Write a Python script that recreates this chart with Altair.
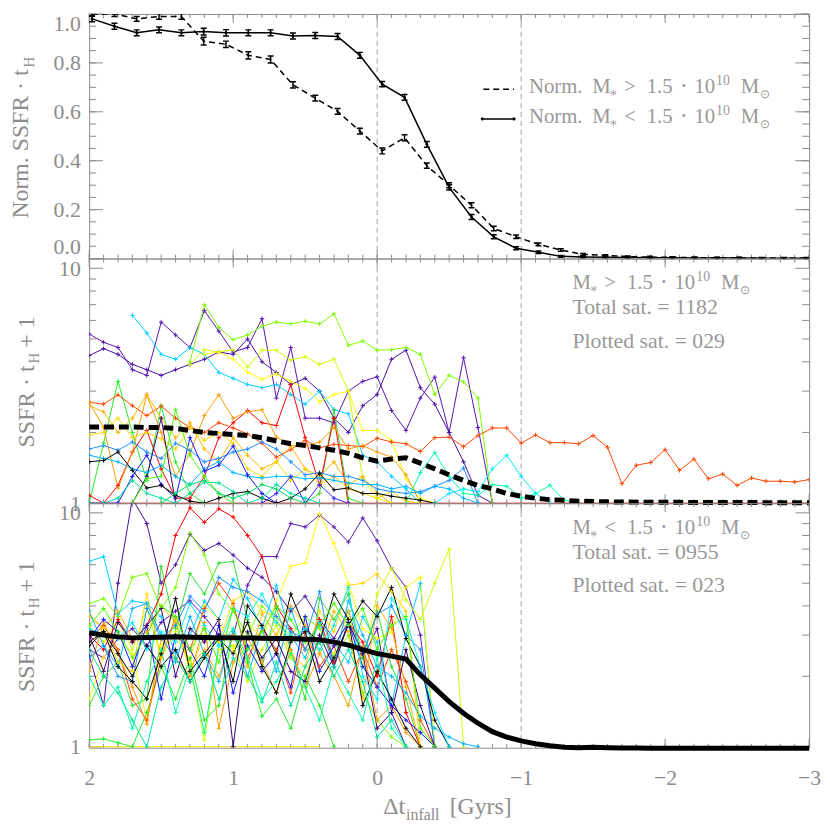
import altair as alt
import pandas as pd

W, H = 727, 247
FONT = "Liberation Serif"
GRAY = "#8c8c8c"
TXT = "#999999"
PLUS = "M-1,0H1M0,-1V1"

# ---------------- data ----------------
X_GRID = [2.0, 1.9, 1.8, 1.7, 1.6, 1.5, 1.4, 1.3, 1.2, 1.1, 1.0, 0.9, 0.8, 0.7, 0.6, 0.5, 0.4,
          0.3, 0.2, 0.1, 0.0, -0.1, -0.2, -0.3, -0.4, -0.5, -0.6, -0.7, -0.8, -0.9, -1.0, -1.1,
          -1.2, -1.3, -1.4, -1.5, -1.6, -1.7, -1.8, -1.9, -2.0, -2.1, -2.2, -2.3, -2.4, -2.5,
          -2.6, -2.7, -2.8, -2.9, -3.0]
X_MAJOR = [2, 1, 0, -1, -2, -3]
X_DASHED = [0, -1]

X_TOP = [1.98, 1.825, 1.67, 1.515, 1.36, 1.205, 1.05, 0.895, 0.74, 0.585, 0.43, 0.275, 0.12,
         -0.035, -0.19, -0.345, -0.5, -0.655, -0.81, -0.965, -1.12, -1.275, -1.43, -1.585,
         -1.74, -1.895, -2.05, -2.205, -2.36, -2.515, -2.67, -2.825, -2.98]
TOP_SOLID = [0.98, 0.95, 0.923, 0.935, 0.923, 0.928, 0.923, 0.923, 0.923, 0.91, 0.912, 0.908,
             0.831, 0.713, 0.659, 0.467, 0.291, 0.17, 0.089, 0.042, 0.026, 0.009, 0.006, 0.005,
             0.004, 0.003, 0.003, 0.002, 0.002, 0.002, 0.001, 0.001, 0.001]
TOP_SOLID_ERR = [0.012, 0.012, 0.012, 0.012, 0.012, 0.014, 0.013, 0.012, 0.012, 0.012, 0.012,
                 0.012, 0.012, 0.011, 0.012, 0.012, 0.011, 0.010, 0.008, 0.006, 0.005, 0.004,
                 0.003, 0.003, 0.003, 0.002, 0.002, 0.002, 0.002, 0.002, 0.002, 0.002, 0.002]
TOP_DASHED = [1.0, 1.0, 0.98, 0.99, 0.99, 0.889, 0.876, 0.831, 0.814, 0.71, 0.656, 0.602, 0.521,
              0.44, 0.494, 0.38, 0.30, 0.218, 0.123, 0.089, 0.058, 0.035, 0.017, 0.013, 0.008,
              0.006, 0.005, 0.004, 0.003, 0.003, 0.002, 0.002, 0.002]
TOP_DASHED_ERR = [0.008, 0.01, 0.01, 0.012, 0.012, 0.016, 0.013, 0.015, 0.014, 0.013, 0.012,
                  0.012, 0.012, 0.012, 0.012, 0.011, 0.01, 0.01, 0.009, 0.007, 0.006, 0.005,
                  0.004, 0.003, 0.003, 0.003, 0.002, 0.002, 0.002, 0.002, 0.002, 0.002, 0.002]
TOP_Y_MAJOR = [0.0, 0.2, 0.4, 0.6, 0.8, 1.0]
TOP_Y_MINOR = [0.0, 0.05, 0.1, 0.15, 0.2, 0.25, 0.3, 0.35, 0.4, 0.45, 0.5, 0.55, 0.6, 0.65,
               0.7, 0.75, 0.8, 0.85, 0.9, 0.95, 1.0]
LOG_MAJOR = [1, 10]
LOG_MINOR = [2, 3, 4, 5, 6, 7, 8, 9]

MID_MEAN = [2.11, 2.11, 2.11, 2.11, 2.10, 2.10, 2.08, 2.04, 2.00, 1.98, 1.96, 1.94, 1.90, 1.84,
            1.79, 1.76, 1.72, 1.68, 1.63, 1.56, 1.51, 1.54, 1.56, 1.48, 1.40, 1.32, 1.25, 1.19,
            1.15, 1.10, 1.07, 1.05, 1.035, 1.028, 1.02, 1.016, 1.013, 1.011, 1.01, 1.009, 1.008,
            1.008, 1.007, 1.007, 1.006, 1.006, 1.006, 1.005, 1.005, 1.005, 1.005]
BOT_MEAN = [3.07, 3.00, 2.95, 2.92, 2.93, 2.94, 2.95, 2.94, 2.93, 2.92, 2.92, 2.92, 2.91, 2.90,
            2.90, 2.88, 2.87, 2.80, 2.72, 2.60, 2.50, 2.44, 2.37, 2.03, 1.78, 1.56, 1.39, 1.26,
            1.16, 1.10, 1.06, 1.03, 1.01, 0.995, 0.99, 0.995, 0.99, 0.988, 0.987, 0.986, 0.986,
            0.986, 0.985, 0.985, 0.985, 0.985, 0.985, 0.985, 0.985, 0.985, 0.985]

# baselines at SSFR*tH+1 = 1 (x from, x to, value)
MID_BASE = ([2.0], [-3.0], [1.0])
BOT_BASE = ([2.0], [0.4], [1.0])

# (colour, index of first sample on X_GRID, values of SSFR*tH+1)
MID_LINES = [
    ("#5b14b4", 0, [5.25, 4.84, 4.6, 3.7, 3.5, 5.9, 5.2, 4.6, 6.6, 5.4, 4.4, 4.6, 6.1, 2.8, 4.6,
                    2.3, 2.3, 2.2, 3.0, 3.3, 3.45, 2.48, 2.04, 2.8, 3.44, 2.0, 4.16, 2.1, 1.0]),
    ("#4a10a0", 0, [4.25, 4.55, 4.3, 3.9, 3.7, 3.5, 3.7, 3.9, 4.1, 4.4, 4.3, 5.0, 4.0, 3.6, 3.2,
                    3.4, 3.0, 2.3, 2.0, 2.6, 2.9, 4.1, 4.48, 3.1, 2.64, 2.0, 1.5, 1.08, 1.0]),
    ("#7cfc00", 7, [4.0, 7.0, 5.6, 4.97, 5.2, 5.66, 5.9, 5.8, 5.95, 5.8, 6.4, 4.7, 4.9, 4.48, 4.5,
                    4.6, 4.3, 2.9, 3.5, 3.28, 2.8, 1.0]),
    ("#00ccff", 3, [6.3, 5.3, 4.3, 4.1, 4.6, 4.3, 3.6, 3.4, 3.2, 3.1, 3.2, 2.9, 2.64, 3.0, 2.5, 2.4,
                    1.6, 1.5, 1.3, 1.15, 1.0]),
    ("#ccff00", 7, [3.9, 4.5, 4.4, 4.5, 3.8, 4.48, 4.48, 4.06, 4.2, 3.9, 4.1, 3.0, 1.27, 1.05, 1.0]),
    ("#ffff00", 8, [4.3, 4.4, 4.1, 3.6, 3.37, 3.55, 3.3, 3.08, 2.7, 2.9, 3.0, 2.04, 2.04, 1.85,
                    1.27, 1.05, 1.0]),
    ("#22ee22", 0, [1.0, 1.8, 3.3, 2.0, 1.25, 2.6, 1.5, 1.1, 1.0]),
    ("#33dd33", 15, [1.0, 1.1, 2.5, 1.05, 1.0]),
    ("#ff0000", 0, [1.08, 1.0, 1.19, 1.65, 2.04, 1.4, 1.05, 1.05, 1.3, 1.9, 2.2, 2.48, 2.2, 2.14,
                    3.2, 1.9, 1.19, 2.3, 1.0]),
    ("#ff4500", 0, [2.69, 2.64, 2.89, 2.6, 2.36, 2.59, 2.3, 2.1, 2.0, 2.2, 2.09, 1.97, 1.80, 1.57,
                    1.69, 1.85, 1.72, 1.78, 1.76, 1.74, 1.89, 1.82, 1.79, 1.66, 1.90, 1.91, 1.74,
                    1.94, 2.09, 2.09, 1.80, 1.95, 1.81, 1.81, 1.79, 1.94, 1.73, 1.21, 1.45, 1.49,
                    1.69, 1.38, 1.54, 1.27, 1.33, 1.19, 1.28, 1.24, 1.24, 1.23, 1.26]),
    ("#ff9900", 0, [2.69, 2.1, 1.16, 1.65, 2.89, 2.0, 1.3, 1.63, 2.36, 2.89, 2.3, 2.45, 2.5, 1.91,
                    1.76, 1.75, 1.82, 2.1, 1.7, 1.76, 1.65, 1.57, 1.32, 1.0]),
    ("#ffb300", 0, [2.6, 2.45, 2.0, 2.3, 2.9, 2.3, 1.9, 2.2, 1.7, 1.5, 1.9, 1.6, 1.4, 1.5, 1.75,
                    1.4, 1.3, 1.5, 1.2, 1.3, 1.1, 1.0]),
    ("#ffd700", 0, [1.95, 2.0, 2.3, 1.9, 2.0, 1.88, 1.7, 2.1, 1.85, 2.0, 1.8, 1.4, 1.3, 1.5, 1.25,
                    1.4, 1.2, 1.3, 1.15, 1.1, 1.05, 1.12, 1.02, 1.0]),
    ("#1e90ff", 0, [1.7, 1.76, 1.68, 1.82, 1.65, 1.55, 1.8, 1.68, 1.5, 1.55, 1.65, 1.7, 1.82, 1.7,
                    1.5, 1.32, 1.35, 1.3, 1.3, 1.25, 1.15, 1.12, 1.1, 1.12, 1.18, 1.25, 1.41, 1.0]),
    ("#00b4ff", 0, [1.6, 1.55, 1.5, 1.4, 1.35, 1.45, 1.3, 1.2, 1.4, 1.5, 1.35, 1.3, 1.28, 1.3, 1.3,
                    1.27, 1.28, 1.25, 1.22, 1.2, 1.2, 1.15, 1.18, 1.1, 1.18, 1.15, 1.05, 1.0]),
    ("#1414ff", 0, [1.0, 1.0, 1.0, 1.3, 1.6, 1.2, 1.05, 1.9, 1.37, 1.45, 1.75, 1.32, 1.1, 1.0]),
    ("#000000", 0, [1.5, 1.52, 1.65, 1.38, 1.16, 1.19, 1.08, 1.02, 1.0, 1.05, 1.1, 1.12, 1.05, 1.0]),
    ("#000000", 13, [1.0, 1.05, 1.15, 1.34, 1.14, 1.16, 1.1, 1.1, 1.07, 1.05, 1.03, 1.0]),
    ("#3a0070", 3, [1.0, 1.3, 2.3, 1.0]),
    ("#00e0a0", 0, [1.0, 1.0, 1.05, 1.25, 1.1, 1.05, 1.0, 1.1, 1.23, 1.22, 1.12, 1.0, 1.05, 1.2,
                    1.1, 1.05, 1.0]),
    ("#00ffa0", 22, [1.0, 1.35, 1.64, 1.3, 1.1, 1.08, 1.2, 1.18, 1.05, 1.1, 1.19, 1.03, 1.0]),
    ("#00eeff", 24, [1.0, 1.1, 1.15, 1.12, 1.4, 1.6, 1.3, 1.1, 1.0]),
    ("#44ff00", 3, [1.0, 1.27, 1.3, 2.5, 1.6, 1.3, 1.1, 1.0]),
    ("#2828ff", 12, [1.0, 1.1, 1.3, 1.0, 1.2, 1.05, 1.0]),
    ("#00dd66", 5, [1.0, 1.1, 1.2, 1.25, 1.1, 1.05, 1.1, 1.2, 1.15, 1.05, 1.0]),
]

BOT_LINES = [
    ("#1a1aff", 0, [2.6, 2.4, 2.9, 3.2, 2.7, 3.4, 3.8, 4.2, 3.6, 3.0, 3.0, 4.9, 6.5, 6.5, 9.0, 8.7,
                    9.8, 8.7, 7.5, 9.5, 7.6, 5.8, 4.8, 3.0, 1.0]),
    ("#550099", 0, [2.45, 1.5, 5.0, 11.5, 9.0, 5.0, 6.0, 8.1, 6.9, 7.4, 6.6, 5.8, 5.3, 4.6, 3.8,
                    4.4, 3.5, 2.9, 3.8, 2.4, 3.2, 1.4, 1.0]),
    ("#ff1010", 0, [4.1, 4.3, 3.6, 5.3, 5.5, 3.9, 4.8, 8.2, 6.6, 4.5, 3.8, 3.0, 4.0, 3.4, 3.0, 3.6,
                    3.2, 2.4, 3.0, 1.7, 1.3, 1.1, 1.0]),
    ("#1f8fff", 0, [6.2, 6.5, 3.7, 4.2, 4.1, 3.6, 2.5, 3.0, 4.2, 3.5, 5.2, 4.3, 3.2, 4.9, 3.0, 2.4,
                    3.4, 2.8, 2.3, 3.6, 2.8, 1.5, 3.0, 5.0, 1.0]),
    ("#ff9a00", 0, [3.3, 2.8, 3.5, 2.6, 3.9, 2.4, 3.1, 2.2, 1.07, 2.6, 2.7, 1.9, 2.6, 3.3, 2.4, 2.0,
                    2.9, 2.5, 3.8, 2.2, 4.5, 5.8, 4.25, 3.5, 5.0, 7.0, 1.0]),
    ("#e6f000", 0, [1.6, 2.4, 3.0, 2.5, 1.3, 2.7, 3.3, 2.3, 4.0, 3.5, 2.6, 3.4, 2.9, 4.2, 5.9, 6.1,
                    9.9, 7.4, 5.0, 3.2, 2.9, 3.1, 4.8, 5.3, 1.0]),
    ("#f5e600", 0, [1.07, 1.08, 1.04, 1.0, 1.4, 2.2, 1.6, 2.4, 1.3, 1.5, 3.1, 2.3, 1.35, 1.6, 1.2,
                    2.0, 1.5, 1.0]),
    ("#b0ff00", 0, [1.5, 2.0, 2.3, 1.5, 1.6, 5.9, 3.2, 5.5, 4.5, 6.1, 6.2, 3.5, 2.2, 3.9, 2.6, 1.6,
                    4.3, 3.5, 4.5, 2.4, 3.8, 2.2, 1.6, 1.0]),
    ("#00ee00", 0, [3.0, 2.6, 3.5, 2.8, 3.3, 4.5, 8.0, 10.5, 9.1, 10.4, 9.6, 8.0, 6.5, 4.0, 3.2, 2.6,
                    3.5, 2.3, 3.4, 2.8, 2.0, 3.6, 1.4, 1.0]),
    ("#00e5ee", 0, [2.9, 3.3, 2.6, 1.6, 1.3, 2.4, 3.6, 2.6, 3.9, 5.0, 4.1, 2.4, 3.2, 2.6, 1.7, 3.1,
                    2.2, 2.7, 1.9, 2.6, 1.8, 2.6, 1.9, 1.3, 1.0]),
    ("#00fa9a", 0, [2.1, 3.4, 2.5, 1.8, 1.25, 2.9, 2.4, 2.0, 3.4, 1.2, 2.3, 2.9, 2.3, 1.7, 2.6, 1.8,
                    2.5, 2.0, 1.5, 2.7, 1.3, 1.5, 1.15, 1.0]),
    ("#32cd32", 0, [3.6, 3.2, 3.8, 2.9, 3.1, 4.0, 3.4, 2.2, 2.6, 2.0, 3.0, 2.2, 3.7, 3.0, 4.0, 3.3,
                    2.5, 3.8, 3.1, 1.6, 4.0, 3.2, 1.8, 1.0]),
    ("#000000", 0, [3.7, 3.2, 2.3, 2.1, 4.5, 2.4, 3.5, 2.1, 3.0, 2.8, 4.2, 4.6, 3.8, 3.6, 2.5, 2.2,
                    3.8, 3.1, 4.9, 5.0, 5.5, 4.6, 3.8, 1.0]),
    ("#4b0082", 0, [2.4, 2.7, 2.0, 1.9, 3.9, 2.9, 3.3, 4.4, 3.8, 5.3, 4.8, 4.6, 4.2, 3.6, 3.1, 2.9,
                    4.6, 2.2, 3.4, 2.5, 3.7, 4.0, 3.0, 2.6, 1.0]),
    ("#ff3030", 0, [3.8, 2.7, 2.2, 3.9, 4.1, 3.0, 2.3, 3.6, 2.5, 1.9, 3.1, 2.0, 3.2, 2.1, 3.9, 2.6,
                    3.4, 2.2, 4.2, 3.0, 2.2, 2.0, 1.7, 1.35, 1.2, 1.1, 1.03, 1.0]),
    ("#ff5000", 0, [2.9, 3.5, 3.1, 2.2, 3.3, 1.6, 3.0, 2.6, 2.0, 3.3, 1.7, 2.7, 2.1, 2.5, 1.8, 3.6,
                    2.1, 2.7, 3.4, 2.2, 1.8, 1.5, 1.3, 1.15, 1.0]),
    ("#ffa500", 0, [2.8, 3.1, 2.5, 2.0, 2.7, 2.2, 2.6, 1.9, 2.4, 2.9, 2.5, 3.4, 2.2, 1.7, 2.8, 3.1,
                    1.9, 2.4, 3.3, 4.2, 3.6, 4.8, 2.9, 2.2, 1.3, 1.0]),
    ("#7fff00", 0, [2.7, 3.1, 2.2, 1.9, 1.6, 2.5, 4.3, 2.1, 2.5, 3.0, 1.9, 4.0, 3.3, 2.5, 4.5, 3.2,
                    2.8, 4.5, 3.5, 1.5, 2.1, 1.6, 1.2, 1.0]),
    ("#00bfff", 0, [3.0, 2.1, 3.4, 2.8, 3.3, 3.9, 2.0, 3.2, 2.8, 3.5, 1.0, 3.1, 2.4, 2.9, 2.1, 1.9,
                    3.0, 2.2, 3.4, 2.5, 1.2, 1.4, 2.6, 1.5, 1.0]),
    ("#40e0d0", 0, [2.6, 2.0, 1.7, 1.3, 1.0, 1.8, 2.4, 1.9, 2.5, 1.6, 2.4, 2.0, 1.55, 2.3, 1.5, 2.2,
                    2.8, 2.0, 2.6, 1.9, 1.1, 1.3, 1.0]),
    ("#9acd32", 0, [2.0, 1.5, 1.8, 1.2, 1.9, 2.6, 1.4, 2.2, 1.15, 2.7, 3.2, 2.4, 1.6, 1.9, 2.5, 1.8,
                    1.3, 2.2, 1.7, 1.3, 2.4, 1.2, 1.0]),
    ("#6a0dad", 0, [3.2, 3.0, 2.9, 3.4, 2.6, 3.1, 2.8, 4.1, 3.3, 2.7, 3.9, 3.6, 4.5, 3.4, 2.9, 3.2,
                    2.6, 3.3, 4.8, 2.0, 1.6, 4.3, 3.5, 2.2, 1.4, 1.0]),
    ("#ee0000", 0, [3.3, 3.9, 3.1, 2.4, 3.0, 4.0, 3.6, 2.6, 3.2, 2.3, 3.9, 2.6, 3.1, 4.0, 3.5, 2.8,
                    3.3, 4.1, 3.3, 3.9, 2.6, 3.3, 3.6, 1.2, 1.0]),
]

# ---------------- helpers ----------------
one = pd.DataFrame({"a": [0]})
xs = alt.Scale(domain=[-3, 2], reverse=True, nice=False, zero=False)
ys_top = alt.Scale(domain=[0, 1], nice=False, zero=False)
ys_mid = alt.Scale(type="log", domain=[1, 11], nice=False)
ys_bot = alt.Scale(type="log", domain=[0.99, 11], nice=False)

lab = dict(ticks=False, domain=False, grid=False, labelFont=FONT, labelFontSize=22,
           labelColor=GRAY, title=None, labelOverlap=False)
yaxis_top = alt.Axis(values=TOP_Y_MAJOR, format=".1f", labelFlush=True, labelPadding=9, **lab)
yaxis_log = alt.Axis(values=LOG_MAJOR, format="d", labelFlush=False, labelPadding=9, **lab)
xaxis_bot = alt.Axis(values=X_MAJOR, format="d", labelFlush=False, labelPadding=20, **lab)


def text(t, x, y, size=21, align="left", angle=None, color=TXT):
    kw = dict(text=t, align=align, baseline="alphabetic", font=FONT, fontSize=size, color=color)
    if angle is not None:
        kw["angle"] = angle
    return alt.Chart(one).mark_text(**kw).encode(x=alt.value(x), y=alt.value(y))


def frame(ys, yaxis, xaxis, ymaj, ymin):
    def XE():
        return alt.X("x:Q", scale=xs, axis=xaxis)

    def YE():
        return alt.Y("y:Q", scale=ys, axis=yaxis)

    out = []
    for vals, L in ((X_GRID, 4), (X_MAJOR, 9)):
        b = alt.Chart(pd.DataFrame({"x": vals})).mark_rule(color=GRAY, strokeWidth=1)
        out.append(b.encode(x=XE(), y=alt.value(0), y2=alt.value(L)))
        out.append(b.encode(x=XE(), y=alt.value(H), y2=alt.value(H - L)))
    for vals, L in ((ymin, 7), (ymaj, 14)):
        b = alt.Chart(pd.DataFrame({"y": vals})).mark_rule(color=GRAY, strokeWidth=1)
        out.append(b.encode(y=YE(), x=alt.value(0), x2=alt.value(L)))
        out.append(b.encode(y=YE(), x=alt.value(W), x2=alt.value(W - L)))
    out.append(alt.Chart(pd.DataFrame({"x": X_DASHED})).mark_rule(
        color="#a0a0a0", strokeWidth=1, strokeDash=[5, 4]).encode(x=XE()))
    return out


def baseline(base, color, ys, yaxis, xaxis):
    d = pd.DataFrame({"x": base[0], "x2": base[1], "y": base[2]})
    return alt.Chart(d).mark_rule(color=color, strokeWidth=1).encode(
        x=alt.X("x:Q", scale=xs, axis=xaxis), x2=alt.X2("x2:Q"),
        y=alt.Y("y:Q", scale=ys, axis=yaxis))


def spaghetti(lines, prefix, ys, yaxis, xaxis):
    rows = []
    for i, (col, start, vals) in enumerate(lines):
        for j, v in enumerate(vals):
            rows.append({"x": X_GRID[start + j], "v": v, "sid": f"{prefix}{i:02d}"})
    ids = [f"{prefix}{i:02d}" for i in range(len(lines))]
    cols = [c for c, _, _ in lines]
    base = alt.Chart(pd.DataFrame(rows))
    enc = dict(
        x=alt.X("x:Q", scale=xs, axis=xaxis),
        y=alt.Y("v:Q", scale=ys, axis=yaxis),
        color=alt.Color("sid:N", scale=alt.Scale(domain=ids, range=cols), legend=None),
    )
    return [
        base.mark_line(strokeWidth=1, clip=True).encode(**enc),
        base.mark_point(shape=PLUS, size=20, filled=False, strokeWidth=1, clip=True,
                        opacity=1).encode(**enc),
    ]


def mass_label(sign, x0, y0, prefix_text=None):
    out = []
    if prefix_text:
        out.append(text(prefix_text, x0 - 64, y0))
    out += [
        text("M", x0, y0),
        text("*", x0 + 18, y0 + 7, size=14),
        text(sign, x0 + 32, y0),
        text("1.5", x0 + 55, y0),
        text("·", x0 + 88, y0 + 1, size=26),
        text("10", x0 + 103, y0),
        text("10", x0 + 125, y0 - 8, size=14),
        text("M", x0 + 150, y0),
        text("⊙", x0 + 169, y0 + 5, size=12),
    ]
    return out


# ---------------- top panel ----------------
top_df = pd.DataFrame({"x": X_TOP, "s": TOP_SOLID, "se": TOP_SOLID_ERR,
                       "d": TOP_DASHED, "de": TOP_DASHED_ERR})
top_df["s_lo"] = top_df["s"] - top_df["se"]
top_df["s_hi"] = top_df["s"] + top_df["se"]
top_df["d_lo"] = top_df["d"] - top_df["de"]
top_df["d_hi"] = top_df["d"] + top_df["de"]


def YT(f):
    return alt.Y(f"{f}:Q", scale=ys_top, axis=yaxis_top)


XT = alt.X("x:Q", scale=xs, axis=None)
tb = alt.Chart(top_df)
top_layers = frame(ys_top, yaxis_top, None, TOP_Y_MAJOR, TOP_Y_MINOR)
for val, dash in (("d", [6, 4]), ("s", None)):
    lk = dict(color="black", strokeWidth=1.5, clip=True)
    if dash:
        lk["strokeDash"] = dash
    top_layers.append(tb.mark_line(**lk).encode(x=XT, y=YT(val)))
    top_layers.append(tb.mark_rule(color="black", strokeWidth=1.5, clip=True).encode(
        x=XT, y=YT(val + "_lo"), y2=alt.Y2(val + "_hi:Q")))
    for end in ("_lo", "_hi"):
        top_layers.append(tb.mark_point(shape="M-1,0H1", size=36, filled=False, color="black",
                                        strokeWidth=1.5, clip=True, opacity=1).encode(
            x=XT, y=YT(val + end)))
top_layers.append(tb.mark_point(filled=True, size=8, color="black", opacity=1).encode(
    x=XT, y=YT("s")))

# legend glyphs
top_layers.append(alt.Chart(one).mark_rule(color="black", strokeWidth=1.5, strokeDash=[6, 4]).encode(
    x=alt.value(398), x2=alt.value(429), y=alt.value(76)))
top_layers.append(alt.Chart(one).mark_rule(color="black", strokeWidth=1.5).encode(
    x=alt.value(397), x2=alt.value(429), y=alt.value(106)))
for px in (397, 429):
    top_layers.append(alt.Chart(one).mark_point(filled=True, size=10, color="black", opacity=1).encode(
        x=alt.value(px), y=alt.value(106)))
top_layers += mass_label(">", 508, 80, "Norm.")
top_layers += mass_label("<", 508, 110, "Norm.")
top_layers.append(text("Norm. SSFR · t", -62, 56, size=24, align="right", angle=270, color=GRAY))
top_layers.append(text("H", -56, 54, size=15, angle=270, color=GRAY))
top = alt.layer(*top_layers).properties(width=W, height=H)


def ylabel_log(layers):
    layers.append(text("SSFR · t", -56, 108, size=24, align="right", angle=270, color=GRAY))
    layers.append(text("H", -51, 106, size=15, angle=270, color=GRAY))
    layers.append(text("+ 1", -56, 90, size=24, angle=270, color=GRAY))


# ---------------- middle panel ----------------
mid_layers = frame(ys_mid, yaxis_log, None, LOG_MAJOR, LOG_MINOR)
mid_layers.append(baseline(MID_BASE, "#ff0000", ys_mid, yaxis_log, None))
mid_layers += spaghetti(MID_LINES, "m", ys_mid, yaxis_log, None)
mid_layers.append(alt.Chart(pd.DataFrame({"x": X_GRID, "v": MID_MEAN})).mark_line(
    color="black", strokeWidth=5, strokeDash=[10, 5]).encode(
    x=alt.X("x:Q", scale=xs, axis=None), y=alt.Y("v:Q", scale=ys_mid, axis=yaxis_log)))
mid_layers += mass_label(">", 488, 31)
mid_layers.append(text("Total sat. = 1182", 488, 56, size=22))
mid_layers.append(text("Plotted sat. = 029", 488, 90, size=22))
ylabel_log(mid_layers)
mid = alt.layer(*mid_layers).properties(width=W, height=H)

# ---------------- bottom panel ----------------
bot_layers = frame(ys_bot, yaxis_log, xaxis_bot, LOG_MAJOR, LOG_MINOR)
bot_layers.append(baseline(BOT_BASE, "#f0e000", ys_bot, yaxis_log, xaxis_bot))
bot_layers += spaghetti(BOT_LINES, "b", ys_bot, yaxis_log, xaxis_bot)
bot_layers.append(alt.Chart(pd.DataFrame({"x": X_GRID, "v": BOT_MEAN})).mark_line(
    color="black", strokeWidth=5).encode(
    x=alt.X("x:Q", scale=xs, axis=xaxis_bot), y=alt.Y("v:Q", scale=ys_bot, axis=yaxis_log)))
bot_layers += mass_label("<", 488, 31)
bot_layers.append(text("Total sat. = 0955", 488, 56, size=22))
bot_layers.append(text("Plotted sat. = 023", 488, 90, size=22))
ylabel_log(bot_layers)
bot_layers.append(text("Δt", 297, 314, size=24, color=GRAY))
bot_layers.append(text("infall", 320, 320, size=16, color=GRAY))
bot_layers.append(text("[Gyrs]", 364, 314, size=24, color=GRAY))
bot = alt.layer(*bot_layers).properties(width=W, height=H)

chart = alt.vconcat(top, mid, bot, spacing=0, bounds="flush").properties(
    padding={"left": 0, "top": 0, "right": 0, "bottom": 0},
    background="white",
).configure_view(stroke=GRAY, strokeWidth=1)

chart.save("out.html", embed_options={"renderer": "svg", "actions": False})
